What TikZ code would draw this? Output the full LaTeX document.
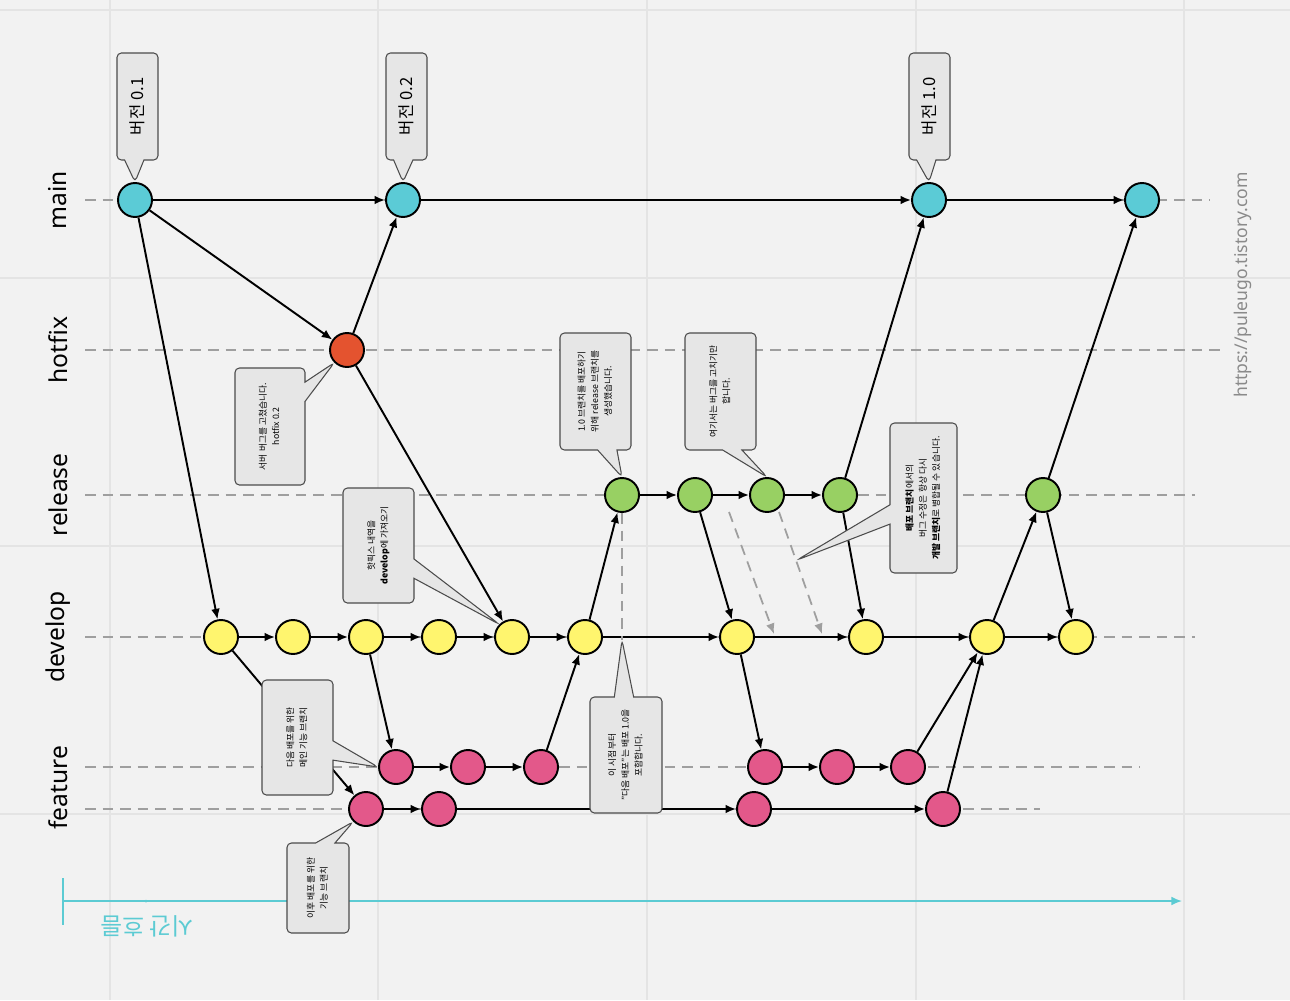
\documentclass[tikz,border=0pt]{standalone}
\usepackage{fontspec}
\usepackage{graphicx}
\setmainfont{Noto Sans CJK KR}
\newfontfamily\lanefont{Noto Sans}
\usetikzlibrary{shapes.callouts,arrows.meta}
\definecolor{bgcol}{HTML}{F2F2F2}
\definecolor{gridcol}{HTML}{E4E4E4}
\definecolor{notecol}{HTML}{E6E6E6}
\definecolor{maincol}{HTML}{5BCBD6}
\definecolor{hotcol}{HTML}{E4532F}
\definecolor{relcol}{HTML}{98D063}
\definecolor{devcol}{HTML}{FFF56E}
\definecolor{featcol}{HTML}{E3588A}
\definecolor{timecol}{HTML}{5CCBD3}
\definecolor{urlcol}{HTML}{8A8A8A}
\tikzset{
  commit/.style={circle,draw=black,line width=1.1pt,minimum size=0.68cm,inner sep=0pt},
  flow/.style={-{Latex[length=6pt,width=5pt]},line width=1.1pt},
  lane/.style={draw=gray!75,dash pattern=on 6pt off 4pt,line width=0.8pt},
  note/.style={rectangle callout,draw=black!70,fill=notecol,rounded corners=2.5pt,inner sep=0pt,
    line width=0.6pt,callout pointer width=11pt,font=\fontsize{5}{7.5}\selectfont},
  vnote/.style={note,minimum width=0.82cm,minimum height=2.14cm,font=\fontsize{9.5}{11}\selectfont},
  lanelabel/.style={rotate=90,font=\lanefont\fontsize{14}{16}\selectfont}
}
\newcommand{\vtext}[1]{\rotatebox{90}{\begin{tabular}{@{}c@{}}#1\end{tabular}}}

\begin{document}
\begin{tikzpicture}[x=0.02cm,y=-0.02cm]
% background and grid
\fill[bgcol] (0,0) rectangle (1290,1000);
\useasboundingbox (0,0) rectangle (1290,1000);
\foreach \x in {110,378,647,916,1184} {
    \draw[gridcol,line width=1.2pt] (\x,0) -- (\x,1000);
}
\foreach \y in {10,278,546,814} {
    \draw[gridcol,line width=1.2pt] (0,\y) -- (1290,\y);
}

% lanes
\draw[lane] (85,200) -- (1210,200);
\draw[lane] (85,350) -- (1220,350);
\draw[lane] (85,495) -- (1195,495);
\draw[lane] (85,637) -- (1195,637);
\draw[lane] (85,767) -- (1140,767);
\draw[lane] (85,809) -- (1040,809);
\node[lanelabel] (lmain) at (58,200) {main};
\node[lanelabel] (lhotfix) at (58,350) {hotfix};
\node[lanelabel] (lrelease) at (58,495) {release};
\node[lanelabel] (ldevelop) at (58,637) {develop};
\node[lanelabel] (lfeature) at (58,788) {feature};

% time axis
\coordinate (tstart) at (63,901);
\coordinate (tend) at (1182,901);
\draw[timecol,line width=1pt,-{Latex[length=6pt,width=5pt]}] (tstart) -- (tend);
\draw[timecol,line width=1pt] (63,878) -- (63,925);
\fill[timecol] (146,901) circle (1.5);
\node[rotate=180,text=timecol,font=\fontsize{13.5}{15}\selectfont] (tlabel) at (147,926) {시간 흐름};

% commits
\foreach \n/\x in {0/135,1/403,2/929,3/1142} {
    \node[commit,fill=maincol] (main\n) at (\x,200) {};
}
\node[commit,fill=hotcol] (hfx) at (347,350) {};
\foreach \n/\x in {0/622,1/695,2/767,3/840,4/1043} {
    \node[commit,fill=relcol] (rel\n) at (\x,495) {};
}
\foreach \n/\x in {0/221,1/293,2/366,3/439,4/512,5/585,6/737,7/866,8/987,9/1076} {
    \node[commit,fill=devcol] (dev\n) at (\x,637) {};
}
\foreach \n/\x in {0/396,1/468,2/541,3/765,4/837,5/908} {
    \node[commit,fill=featcol] (fa\n) at (\x,767) {};
}
\foreach \n/\x in {0/366,1/439,2/754,3/943} {
    \node[commit,fill=featcol] (fb\n) at (\x,809) {};
}

% merges and branches
\foreach \a/\b in {main0/main1,main1/main2,main2/main3,main0/hfx,hfx/main1,hfx/dev4,main0/dev0,
    dev0/dev1,dev1/dev2,dev2/dev3,dev3/dev4,dev4/dev5,dev5/dev6,dev6/dev7,dev7/dev8,dev8/dev9,
    dev0/fb0,dev2/fa0,fa0/fa1,fa1/fa2,fa2/dev5,fb0/fb1,fb1/fb2,fb2/fb3,
    dev5/rel0,rel0/rel1,rel1/rel2,rel2/rel3,rel1/dev6,rel3/main2,rel3/dev7,
    dev6/fa3,fa3/fa4,fa4/fa5,fa5/dev8,fb3/dev8,dev8/rel4,rel4/main3,rel4/dev9} {
    \draw[flow] (\a) -- (\b);
}

% bug fixes back to develop
\coordinate (fixs1) at (729,512);
\coordinate (fixe1) at (774,634);
\coordinate (fixs2) at (779,512);
\coordinate (fixe2) at (822,634);
\draw[gray!75,dash pattern=on 6pt off 4pt,line width=1pt,-{Latex[length=6pt,width=5pt]}] (fixs1) -- (fixe1);
\draw[gray!75,dash pattern=on 6pt off 4pt,line width=1pt,-{Latex[length=6pt,width=5pt]}] (fixs2) -- (fixe2);
\coordinate (splitpt) at (622,640);
\draw[gray!75,dash pattern=on 6pt off 4pt,line width=1pt] (rel0) -- (splitpt);

% notes
\node[vnote,callout absolute pointer={(main0.north)}] (v01) at (137.5,106.5) {\rotatebox{90}{버전 0.1}};
\node[vnote,callout absolute pointer={(main1.north)}] (v02) at (406.5,106.5) {\rotatebox{90}{버전 0.2}};
\node[vnote,callout absolute pointer={(main2.north)}] (v10) at (929.5,106.5) {\rotatebox{90}{버전 1.0}};
\node[note,minimum width=1.4cm,minimum height=2.34cm,callout absolute pointer={(hfx.south west)}] (hfxnote) at (270,426.5)
    {\vtext{서버 버그를 고쳤습니다.\\hotfix 0.2}};
\node[note,minimum width=1.42cm,minimum height=2.3cm,callout absolute pointer={(dev4.north west)}] (devnote) at (378.5,545.5)
    {\vtext{핫픽스 내역을\\\textbf{develop}에 가져오기}};
\node[note,minimum width=1.42cm,minimum height=2.34cm,callout absolute pointer={(rel0.north)}] (relnote) at (595.5,391.5)
    {\vtext{1.0 브랜치를 배포하기\\위해 release 브랜치를\\생성했습니다.}};
\node[note,minimum width=1.42cm,minimum height=2.34cm,callout absolute pointer={(rel2.north)}] (fixnote) at (720.5,391.5)
    {\vtext{여기서는 버그를 고치기만\\합니다.}};
\coordinate (mergetip) at (797,560);
\node[note,minimum width=1.34cm,minimum height=3.0cm,callout absolute pointer={(mergetip)}] (mergenote) at (923.5,498)
    {\vtext{\textbf{배포 브랜치}에서의\\버그 수정은 항상 다시\\\textbf{개발 브랜치}로 병합될 수 있습니다.}};
\node[note,minimum width=1.42cm,minimum height=2.3cm,callout absolute pointer={(fa0.west)}] (fanote) at (297.5,737.5)
    {\vtext{다음 배포를 위한\\메인 기능 브랜치}};
\node[note,minimum width=1.44cm,minimum height=2.32cm,callout absolute pointer={(splitpt)}] (splitnote) at (626,755)
    {\vtext{이 시점부터\\"다음 배포"는 배포 1.0을\\포함합니다.}};
\node[note,minimum width=1.24cm,minimum height=1.8cm,callout absolute pointer={(fb0.south west)}] (fbnote) at (318,888)
    {\vtext{이후 배포를 위한\\기능 브랜치}};

% url
\node[rotate=90,text=urlcol,font=\lanefont\fontsize{10}{12}\selectfont] (url) at (1243,285) {https://puleugo.tistory.com};

\end{tikzpicture}
\end{document}
